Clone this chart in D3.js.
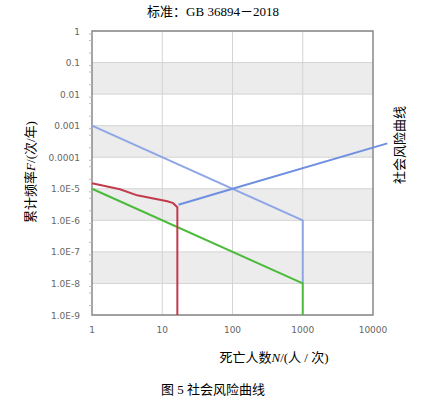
<!DOCTYPE html>
<html><head><meta charset="utf-8">
<script src="https://cdn.jsdelivr.net/npm/d3@7"></script>
<style>body{margin:0;background:#fff}</style>
</head><body>
<svg id="c" width="426" height="408"></svg>
<script>
// data
var xTicks = [1, 10, 100, 1000, 10000];
var yTicks = [1, 0.1, 0.01, 0.001, 0.0001, 1e-5, 1e-6, 1e-7, 1e-8, 1e-9];
var yTickLabels = ["1", "0.1", "0.01", "0.001", "0.0001", "1.0E-5", "1.0E-6", "1.0E-7", "1.0E-8", "1.0E-9"];
var upperLimit = [[1, 1e-3], [1000, 1e-6], [1000, 1e-8]];
var lowerLimit = [[1, 1e-5], [1000, 1e-8], [1000, 1e-9]];
var riskCurve = [[1, 1.5e-5], [2.5, 9.6e-6], [4.4, 6.2e-6], [6.1, 5.4e-6], [11.8, 4e-6], [14.3, 3.5e-6], [16.4, 2.6e-6], [16.4, 1e-9]];
var riskLine = [[17, 3.1e-6], [100, 1e-5], [16000, 2.75e-4]];

var svg = d3.select('#c');
var x = d3.scaleLog().domain([1, 10000]).range([92, 373]);
var y = d3.scaleLog().domain([1e-9, 1]).range([315, 31]);

// grey bands
var bands = [[0.1, 0.01], [0.001, 0.0001], [1e-5, 1e-6], [1e-7, 1e-8]];
svg.selectAll('rect.band').data(bands).enter().append('rect')
  .attr('x', x(1)).attr('width', x(10000) - x(1))
  .attr('y', d => y(d[0])).attr('height', d => y(d[1]) - y(d[0]))
  .attr('fill', '#ececec');
// grid
svg.selectAll('line.hg').data(yTicks).enter().append('line')
  .attr('x1', x(1)).attr('x2', x(10000)).attr('y1', d => y(d)).attr('y2', d => y(d))
  .attr('stroke', '#d4d4d4');
svg.selectAll('line.vg').data(xTicks.slice(1, 4)).enter().append('line')
  .attr('x1', d => x(d)).attr('x2', d => x(d)).attr('y1', y(1)).attr('y2', y(1e-9))
  .attr('stroke', '#d4d4d4');
svg.append('rect').attr('x', x(1)).attr('y', y(1)).attr('width', x(10000) - x(1)).attr('height', y(1e-9) - y(1))
  .attr('fill', 'none').attr('stroke', '#888').attr('stroke-width', 1.5);

// minor ticks on y
var minor = [];
yTicks.slice(1).forEach(t => { for (var k = 2; k < 10; k += 3) minor.push(t * k); });
svg.selectAll('line.mt').data(minor).enter().append('line')
  .attr('x1', x(1) - 3).attr('x2', x(1)).attr('y1', d => y(d)).attr('y2', d => y(d))
  .attr('stroke', '#bbb');

svg.selectAll('text.yt').data(yTicks).enter().append('text')
  .attr('x', 80).attr('y', d => y(d) + 3.5).attr('text-anchor', 'end')
  .attr('font-family', 'DejaVu Sans').attr('font-size', 9).attr('fill', '#666')
  .text((d, i) => yTickLabels[i]);
svg.selectAll('text.xt').data(xTicks).enter().append('text')
  .attr('x', d => x(d)).attr('y', 333).attr('text-anchor', 'middle')
  .attr('font-family', 'DejaVu Sans').attr('font-size', 9).attr('fill', '#666')
  .text(d => d);

var line = d3.line().x(d => x(d[0])).y(d => y(d[1]));
svg.append('path').datum(upperLimit).attr('d', line).attr('fill', 'none').attr('stroke', '#8ea6e6').attr('stroke-width', 2);
svg.append('path').datum(lowerLimit).attr('d', line).attr('fill', 'none').attr('stroke', '#4cbb3c').attr('stroke-width', 2);
svg.append('path').datum(riskCurve).attr('d', line).attr('fill', 'none').attr('stroke', '#c23b4a').attr('stroke-width', 2);
svg.append('path').datum(riskLine).attr('d', line).attr('fill', 'none').attr('stroke', '#6f8fe0').attr('stroke-width', 2);

var serif = '"Liberation Serif", "Noto Sans CJK SC", serif';
svg.append('text').attr('x', 213).attr('y', 16).attr('text-anchor', 'middle')
  .attr('font-family', serif).attr('font-size', 13).text('标准：GB 36894－2018');
svg.append('text').attr('transform', 'translate(35,172) rotate(-90)').attr('text-anchor', 'middle')
  .attr('font-family', serif).attr('font-size', 13)
  .html('累计频率<tspan font-style="italic">F</tspan>/(次/年)');
svg.append('text').attr('transform', 'translate(404,145) rotate(-90)').attr('text-anchor', 'middle')
  .attr('font-family', serif).attr('font-size', 13).text('社会风险曲线');
svg.append('text').attr('x', 274).attr('y', 362).attr('text-anchor', 'middle')
  .attr('font-family', serif).attr('font-size', 13)
  .html('死亡人数<tspan font-style="italic">N</tspan>/(人 / 次)');
svg.append('text').attr('x', 213).attr('y', 394).attr('text-anchor', 'middle')
  .attr('font-family', serif).attr('font-size', 13).text('图 5  社会风险曲线');
</script>
</body></html>
